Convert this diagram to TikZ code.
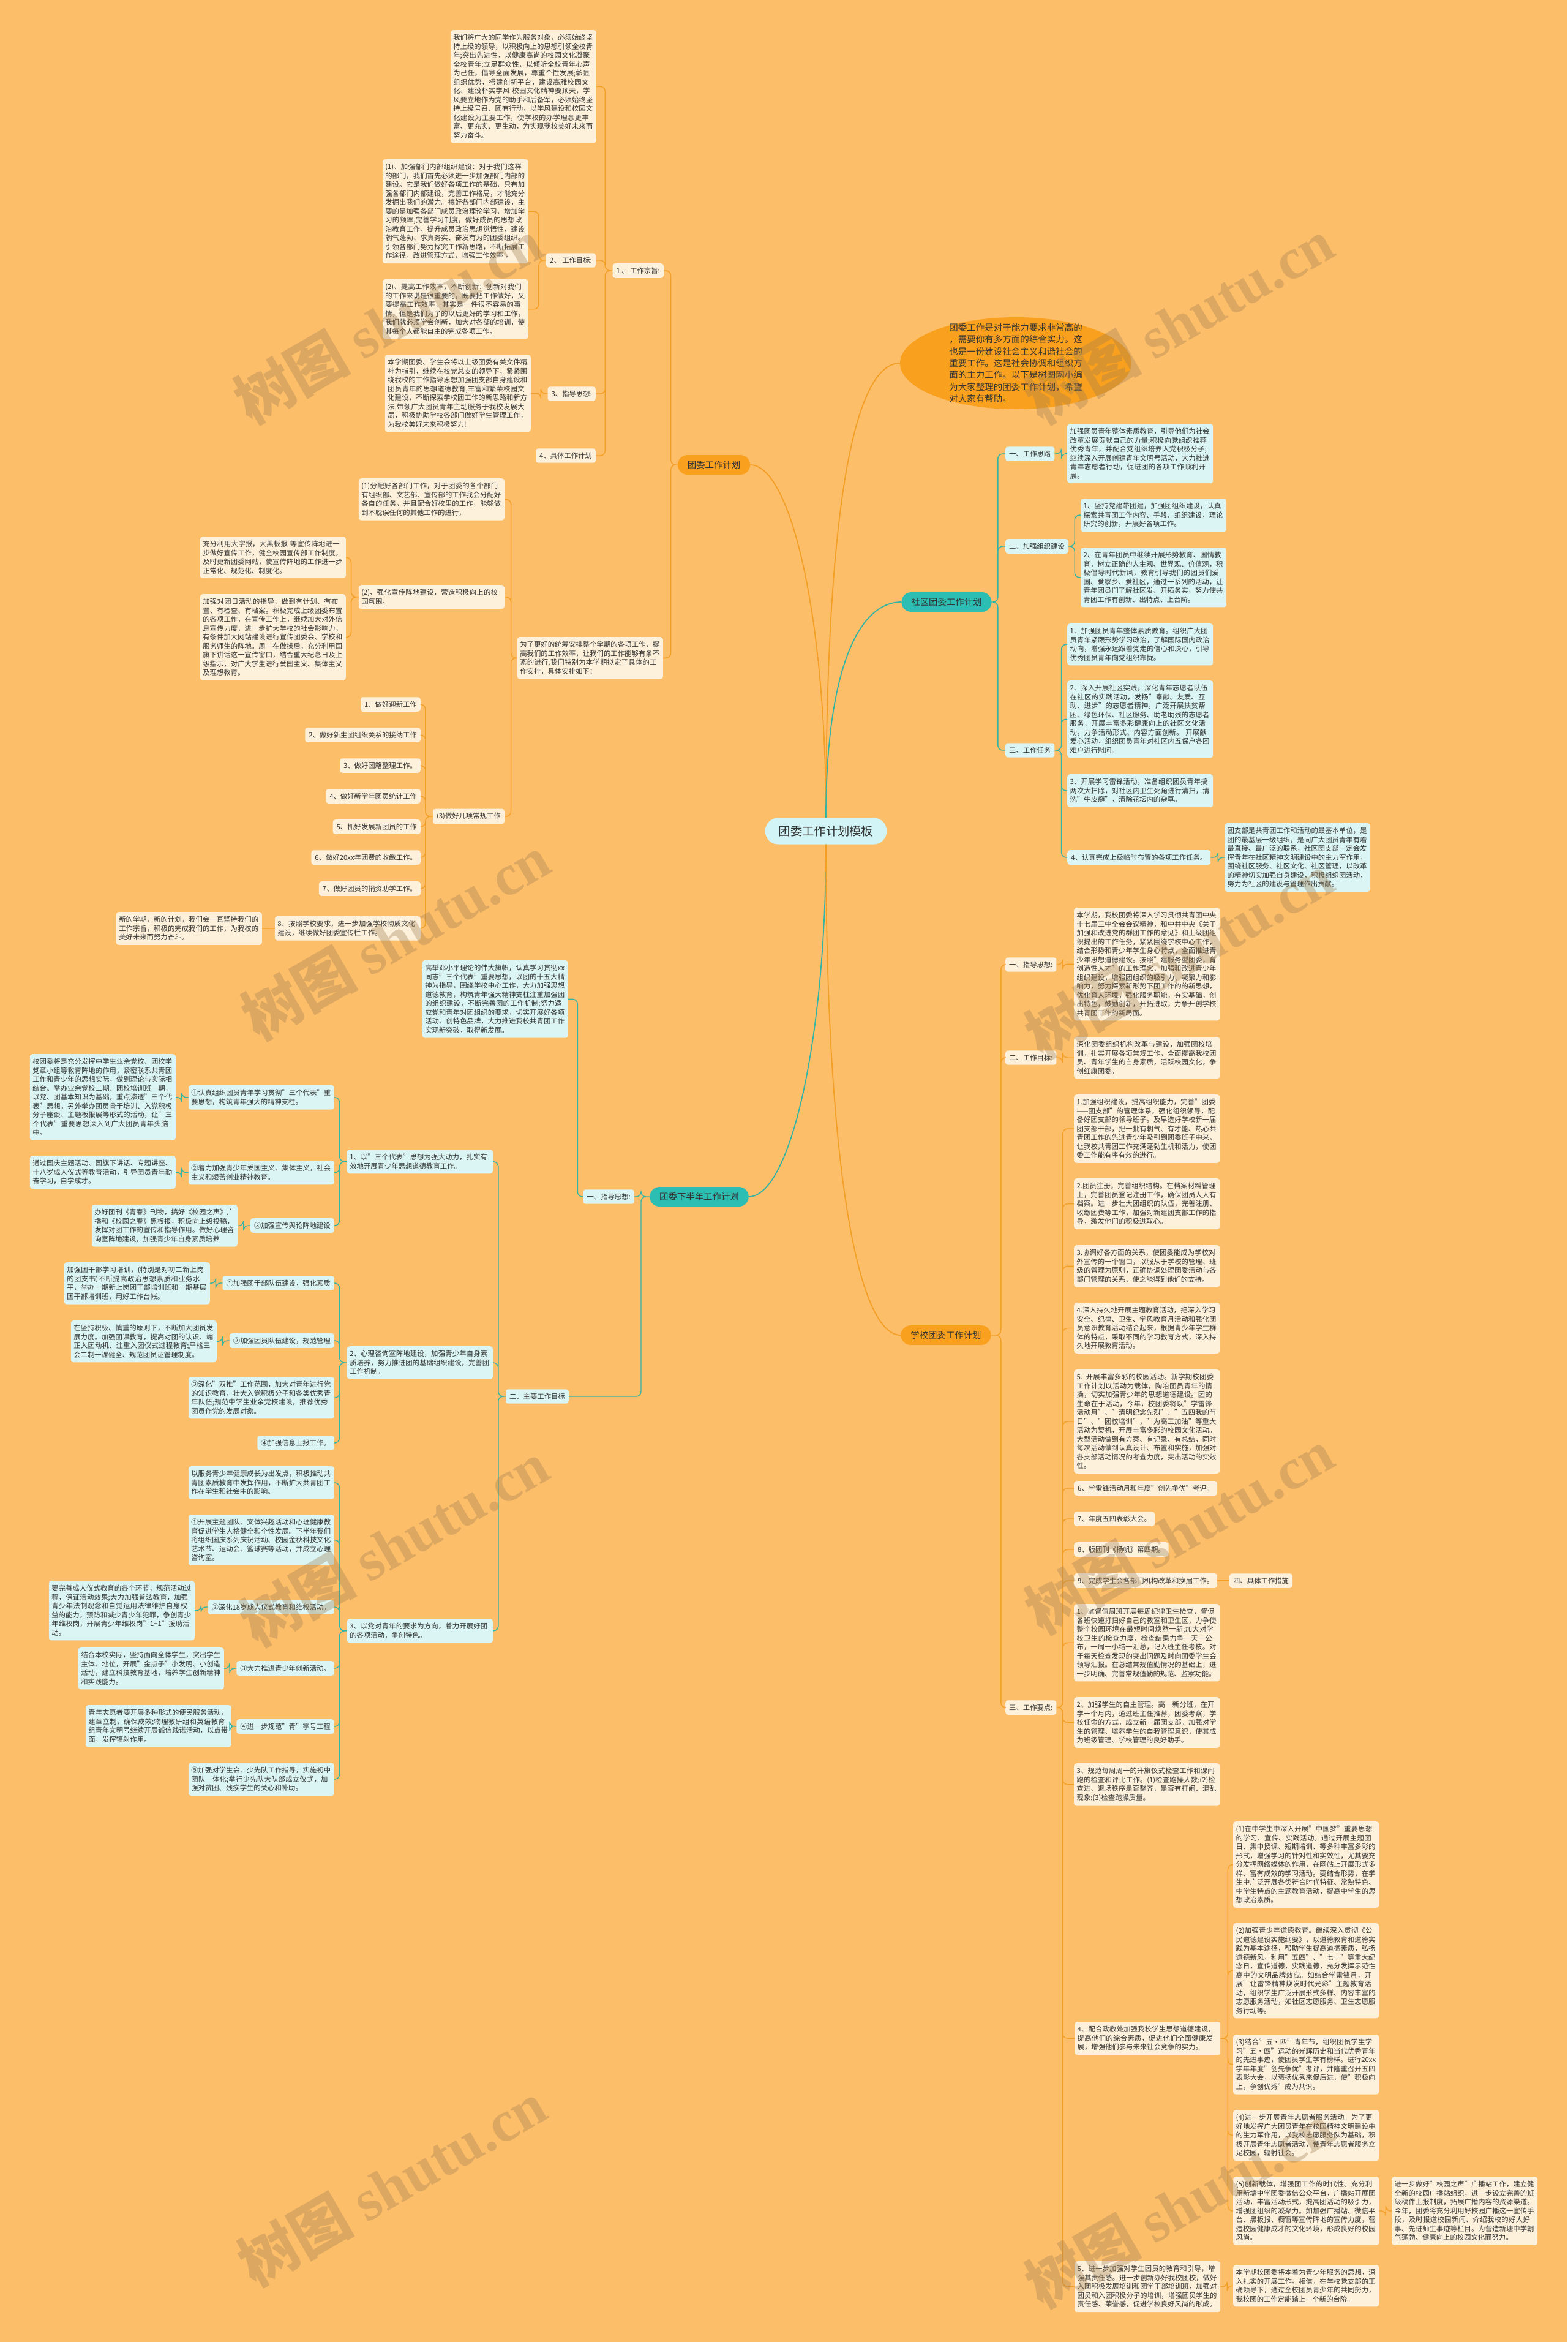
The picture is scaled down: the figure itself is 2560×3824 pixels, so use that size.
\documentclass[tikz,border=0pt]{standalone}
\usepackage{fontspec}
\setmainfont{Noto Sans CJK SC}
\newfontfamily\marklatin{Liberation Serif}
\XeTeXlinebreaklocale "zh"
\XeTeXlinebreakskip=0pt plus 1pt
\usepackage{xcolor}
\usepackage{tikz}
\usetikzlibrary{shapes.geometric}
\definecolor{bgorange}{RGB}{253,190,106}
\definecolor{nodeorange}{RGB}{249,161,30}
\definecolor{nodeteal}{RGB}{44,190,178}
\definecolor{rootcyan}{RGB}{210,244,246}
\definecolor{leafcream}{RGB}{253,241,220}
\definecolor{leafcyan}{RGB}{218,245,243}
\definecolor{lineorange}{RGB}{243,158,36}
\definecolor{lineteal}{RGB}{52,180,165}
\definecolor{inkdark}{RGB}{51,51,51}
\definecolor{markbrown}{RGB}{160,125,80}

\begin{document}
\begin{tikzpicture}[
  x=1pt, y=-1pt,
  every node/.style={text=inkdark},
  rootbox/.style={fill=rootcyan, rounded corners=21pt, minimum height=43pt, inner xsep=22pt, font=\fontsize{19.3}{23}\selectfont},
  orangebranch/.style={fill=nodeorange, rounded corners=16pt, minimum height=32pt, inner xsep=16pt, font=\fontsize{14.4}{17}\selectfont},
  tealbranch/.style={orangebranch, fill=nodeteal},
  orangeleaf/.style={fill=leafcream, rounded corners=4pt, text width=229pt, align=left, inner xsep=4.5pt, inner ysep=7pt, font=\fontsize{11.35}{14.5}\selectfont},
  tealleaf/.style={orangeleaf, fill=leafcyan},
  orangetag/.style={fill=leafcream, rounded corners=4pt, inner xsep=6pt, inner ysep=6.5pt, font=\fontsize{11.35}{14.5}\selectfont},
  tealtag/.style={orangetag, fill=leafcyan},
  orangeedge/.style={draw=lineorange, line width=1.4pt, rounded corners=8pt},
  tealedge/.style={orangeedge, draw=lineteal},
  trunkorange/.style={draw=lineorange, line width=1.8pt},
  trunkteal/.style={draw=lineteal, line width=1.8pt},
  watermark/.style={text=markbrown, opacity=0.35, rotate=30, font=\fontsize{95}{95}\selectfont\bfseries},
]
\fill[bgorange] (0,0) rectangle (2560,3824);
\useasboundingbox (0,0) rectangle (2560,3824);

\node[rootbox] (root) at (1349,1357) {团委工作计划模板};
\node[ellipse, fill=nodeorange, minimum width=378pt, minimum height=150pt, inner sep=0pt] (intro) at (1659,593) {};
\node[align=left, inner sep=0pt, font=\fontsize{14.5}{19.4}\selectfont] (introtext) at (intro.center) {团委工作是对于能力要求非常高的\\，需要你有多方面的综合实力。这\\也是一份建设社会主义和谐社会的\\重要工作。这是社会协调和组织方\\面的主力工作。以下是树图网小编\\为大家整理的团委工作计划，希望\\对大家有帮助。};

\node[orangebranch] (A) at (1166,759) {团委工作计划};
\node[orangetag, anchor=east] (A1) at (1084,442) {1 、 工作宗旨:};
\node[orangeleaf, anchor=north east] (TW1) at (974,49) {我们将广大的同学作为服务对象，必须始终坚持上级的领导，以积极向上的思想引领全校青年;突出先进性，以健康高尚的校园文化凝聚全校青年;立足群众性，以倾听全校青年心声为己任，倡导全面发展，尊重个性发展;彰显组织优势，搭建创新平台，建设高雅校园文化、建设朴实学风 校园文化精神要顶天，学风要立地作为党的助手和后备军，必须始终坚持上级号召、团有行动，以学风建设和校园文化建设为主要工作，使学校的办学理念更丰富、更充实、更生动，为实现我校美好未来而努力奋斗。};
\node[orangetag, anchor=east] (A1b) at (973,425) {2、 工作目标:};
\node[orangeleaf, anchor=north east] (TW2) at (863,260) {(1)、加强部门内部组织建设：对于我们这样的部门，我们首先必须进一步加强部门内部的建设。它是我们做好各项工作的基础，只有加强各部门内部建设，完善工作格局，才能充分发掘出我们的潜力。搞好各部门内部建设，主要的是加强各部门成员政治理论学习，增加学习的频率,完善学习制度，做好成员的思想政治教育工作，提升成员政治思想觉悟性，建设朝气蓬勃、求真务实、奋发有为的团委组织。引领各部门努力探究工作新思路，不断拓展工作途径，改进管理方式，增强工作效率 。};
\node[orangeleaf, anchor=north east] (TW3) at (863,456) {(2)、提高工作效率，不断创新：创新对我们的工作来说是很重要的，既要把工作做好，又要提高工作效率，其实是一件很不容易的事情，但是我们为了的以后更好的学习和工作，我们就必须学会创新，加大对各部的培训，使其每个人都能自主的完成各项工作。};
\node[orangetag, anchor=east] (A1c) at (973,643) {3、指导思想:};
\node[orangeleaf, anchor=north east] (TW4) at (867,579) {本学期团委、学生会将以上级团委有关文件精神为指引，继续在校党总支的领导下，紧紧围绕我校的工作指导思想加强团支部自身建设和团员青年的思想道德教育,丰富和繁荣校园文化建设，不断探索学校团工作的新思路和新方法,带领广大团员青年主动服务于我校发展大局，积极协助学校各部门做好学生管理工作，为我校美好未来积极努力!};
\node[orangetag, anchor=east] (A1d) at (973,744) {4、具体工作计划};
\node[orangeleaf, anchor=north east] (A2) at (1083,1040) {为了更好的统筹安排整个学期的各项工作，提高我们的工作效率，让我们的工作能够有条不紊的进行,我们特别为本学期拟定了具体的工作安排，具体安排如下：};
\node[orangeleaf, anchor=north east] (A2a) at (824,781) {(1)分配好各部门工作，对于团委的各个部门有组织部、文艺部、宣传部的工作我会分配好各自的任务，并且配合好校里的工作，能够做到不耽误任何的其他工作的进行，};
\node[orangeleaf, anchor=north east] (A2b) at (824,955) {(2)、强化宣传阵地建设，营造积极向上的校园氛围。};
\node[orangeleaf, anchor=north east] (TW5) at (565,876) {充分利用大字报，大黑板报 等宣传阵地进一步做好宣传工作，健全校园宣传部工作制度，及时更新团委网站，使宣传阵地的工作进一步正常化、规范化、制度化。};
\node[orangeleaf, anchor=north east] (TW6) at (565,970) {加强对团日活动的指导，做到有计划、有布置、有检查、有档案。积极完成上级团委布置的各项工作，在宣传工作上，继续加大对外信息宣传力度，进一步扩大学校的社会影响力，有条件加大网站建设进行宣传团委会、学校和服务师生的阵地。周一在做操后，充分利用国旗下讲话这一宣传窗口，结合重大纪念日及上级指示，对广大学生进行爱国主义、集体主义及理想教育。};
\node[orangetag, anchor=east] (A2c) at (824,1333) {(3)做好几项常规工作};
\node[orangetag, anchor=east] (L1) at (687,1150) {1、做好迎新工作};
\node[orangetag, anchor=east] (L2) at (687,1200) {2、做好新生团组织关系的接纳工作};
\node[orangetag, anchor=east] (L3) at (687,1250) {3、做好团籍整理工作。};
\node[orangetag, anchor=east] (L4) at (687,1300) {4、做好新学年团员统计工作};
\node[orangetag, anchor=east] (L5) at (687,1350) {5、抓好发展新团员的工作};
\node[orangetag, anchor=east] (L6) at (687,1400) {6、做好20xx年团费的收缴工作。};
\node[orangetag, anchor=east] (L7) at (687,1451) {7、做好团员的捐资助学工作。};
\node[orangeleaf, anchor=north east] (L8) at (687,1496) {8、按照学校要求，进一步加强学校物质文化建设，继续做好团委宣传栏工作。};
\node[orangeleaf, anchor=north east] (TW7) at (428,1489) {新的学期，新的计划，我们会一直坚持我们的工作宗旨，积极的完成我们的工作，为我校的美好未来而努力奋斗。};

\node[tealbranch] (B) at (1546,983) {社区团委工作计划};
\node[tealtag, anchor=west] (B1) at (1642,741) {一、工作思路};
\node[tealleaf, anchor=north west] (TB1) at (1743,692) {加强团员青年整体素质教育，引导他们为社会改革发展贡献自己的力量;积极向党组织推荐优秀青年，并配合党组织培养入党积极分子;继续深入开展创建青年文明号活动，大力推进青年志愿者行动，促进团的各项工作顺利开展。};
\node[tealtag, anchor=west] (B2) at (1642,892) {二、加强组织建设};
\node[tealleaf, anchor=north west] (TB2) at (1765,814) {1、坚持党建带团建，加强团组织建设，认真探索共青团工作内容、手段、组织建设，理论研究的创新，开展好各项工作。};
\node[tealleaf, anchor=north west] (TB3) at (1765,894) {2、在青年团员中继续开展形势教育、国情教育，树立正确的人生观、世界观、价值观，积极倡导时代新风，教育引导我们的团员们爱国、爱家乡、爱社区，通过一系列的活动，让青年团员们了解社区发、开拓务实，努力使共青团工作有创新、出特点、上台阶。};
\node[tealtag, anchor=west] (B3) at (1642,1225) {三、工作任务};
\node[tealleaf, anchor=north west] (TB4) at (1743,1018) {1、加强团员青年整体素质教育。组织广大团员青年紧跟形势学习政治，了解国际国内政治动向，增强永远跟着党走的信心和决心，引导优秀团员青年向党组织靠拢。};
\node[tealleaf, anchor=north west] (TB5) at (1743,1111) {2、深入开展社区实践，深化青年志愿者队伍在社区的实践活动，发扬"奉献、友爱、互助、进步"的志愿者精神，广泛开展扶贫帮困、绿色环保、社区服务、助老助残的志愿者服务，开展丰富多彩健康向上的社区文化活动，力争活动形式、内容方面创新。 开展献爱心活动，组织团员青年对社区内五保户各困难户进行慰问。};
\node[tealleaf, anchor=north west] (TB6) at (1743,1264) {3、开展学习雷锋活动，准备组织团员青年搞两次大扫除，对社区内卫生死角进行清扫，清洗"牛皮癣"，清除花坛内的杂草。};
\node[tealtag, anchor=west] (TB7) at (1743,1400) {4、认真完成上级临时布置的各项工作任务。};
\node[tealleaf, anchor=north west] (TB8) at (2000,1344) {团支部是共青团工作和活动的最基本单位，是团的最基层一级组织，是同广大团员青年有着最直接、最广泛的联系，社区团支部一定会发挥青年在社区精神文明建设中的主力军作用，围绕社区服务、社区文化、社区管理，以改革的精神切实加强自身建设，积极组织团活动，努力为社区的建设与管理作出贡献。};

\node[tealbranch] (C) at (1142,1954) {团委下半年工作计划};
\node[tealtag, anchor=east] (C1) at (1036,1954) {一、指导思想:};
\node[tealleaf, anchor=north east] (C1t) at (928,1568) {高举邓小平理论的伟大旗帜，认真学习贯彻xx同志"三个代表"重要思想，以团的十五大精神为指导，围绕学校中心工作，大力加强思想道德教育，构筑青年强大精神支柱注重加强团的组织建设，不断完善团的工作机制;努力适应党和青年对团组织的要求，切实开展好各项活动、创特色品牌，大力推进我校共青团工作实现新突破，取得新发展。};
\node[tealtag, anchor=east] (C2) at (929,2280) {二、主要工作目标};
\node[tealleaf, anchor=north east] (C2a) at (805,1877) {1、以"三个代表"思想为强大动力，扎实有效地开展青少年思想道德教育工作。};
\node[tealleaf, anchor=north east] (C2a1) at (546,1772) {①认真组织团员青年学习贯彻"三个代表"重要思想，构筑青年强大的精神支柱。};
\node[tealleaf, anchor=north east] (C2a1t) at (287,1721) {校团委将是充分发挥中学生业余党校、团校学党章小组等教育阵地的作用，紧密联系共青团工作和青少年的思想实际，做到理论与实际相结合。举办业余党校二期、团校培训班一期，以党、团基本知识为基础，重点渗透"三个代表"思想。另外举办团员骨干培训、入党积极分子座谈、主题板报展等形式的活动，让"三个代表"重要思想深入到广大团员青年头脑中。};
\node[tealleaf, anchor=north east] (C2a2) at (546,1895) {②着力加强青少年爱国主义、集体主义，社会主义和艰苦创业精神教育。};
\node[tealleaf, anchor=north east] (C2a2t) at (287,1887) {通过国庆主题活动、国旗下讲话、专题讲座、十八岁成人仪式等教育活动，引导团员青年勤奋学习，自学成才。};
\node[tealtag, anchor=east] (C2a3) at (546,2001) {③加强宣传舆论阵地建设};
\node[tealleaf, anchor=north east] (C2a3t) at (388,1967) {办好团刊《青春》刊物，搞好《校园之声》广播和《校园之春》黑板报，积极向上级投稿，发挥对团工作的宣传和指导作用。做好心理咨询室阵地建设，加强青少年自身素质培养};
\node[tealleaf, anchor=north east] (C2b) at (805,2198) {2、心理咨询室阵地建设，加强青少年自身素质培养，努力推进团的基础组织建设，完善团工作机制。};
\node[tealtag, anchor=east] (C2b1) at (546,2095) {①加强团干部队伍建设，强化素质};
\node[tealleaf, anchor=north east] (C2b1t) at (343,2061) {加强团干部学习培训，(特别是对初二新上岗的团支书)不断提高政治思想素质和业务水平，举办一期新上岗团干部培训班和一期基层团干部培训班，用好工作台帐。};
\node[tealtag, anchor=east] (C2b2) at (546,2189) {②加强团员队伍建设，规范管理};
\node[tealleaf, anchor=north east] (C2b2t) at (354,2156) {在坚持积极、慎重的原则下，不断加大团员发展力度。加强团课教育，提高对团的认识、端正入团动机、注重入团仪式过程教育;严格三会二制一课健全、规范团员证管理制度。};
\node[tealleaf, anchor=north east] (C2b3) at (546,2248) {③深化"双推"工作范围，加大对青年进行党的知识教育，壮大入党积极分子和各类优秀青年队伍;规范中学生业余党校建设，推荐优秀团员作党的发展对象。};
\node[tealtag, anchor=east] (C2b4) at (546,2356) {④加强信息上报工作。};
\node[tealleaf, anchor=north east] (C2c) at (805,2643) {3、以党对青年的要求为方向，着力开展好团的各项活动，争创特色。};
\node[tealleaf, anchor=north east] (C2c1) at (546,2394) {以服务青少年健康成长为出发点，积极推动共青团素质教育中发挥作用，不断扩大共青团工作在学生和社会中的影响。};
\node[tealleaf, anchor=north east] (C2c2) at (546,2473) {①开展主题团队、文体兴趣活动和心理健康教育促进学生人格健全和个性发展。下半年我们将组织国庆系列庆祝活动、校园金秋科技文化艺术节、运动会、篮球赛等活动，并成立心理咨询室。};
\node[tealtag, anchor=east] (C2c3) at (546,2624) {②深化18岁成人仪式教育和维权活动。};
\node[tealleaf, anchor=north east] (C2c3t) at (318,2581) {要完善成人仪式教育的各个环节，规范活动过程，保证活动效果;大力加强普法教育，加强青少年法制观念和自觉运用法律维护自身权益的能力，预防和减少青少年犯罪，争创青少年维权岗，开展青少年维权岗"1+1"援助活动。};
\node[tealtag, anchor=east] (C2c4) at (546,2724) {③大力推进青少年创新活动。};
\node[tealleaf, anchor=north east] (C2c4t) at (366,2690) {结合本校实际，坚持面向全体学生，突出学生主体、地位，开展"金点子"小发明、小创造活动，建立科技教育基地，培养学生创新精神和实践能力。};
\node[tealtag, anchor=east] (C2c5) at (546,2819) {④进一步规范"青"字号工程};
\node[tealleaf, anchor=north east] (C2c5t) at (378,2784) {青年志愿者要开展多种形式的便民服务活动，建章立制，确保成效;物理教研组和英语教育组青年文明号继续开展诚信践诺活动，以点带面，发挥辐射作用。};
\node[tealleaf, anchor=north east] (C2c6) at (546,2878) {⑤加强对学生会、少先队工作指导，实施初中团队一体化;举行少先队大队部成立仪式，加强对贫困、残疾学生的关心和补助。};

\node[orangebranch] (D) at (1545,2180) {学校团委工作计划};
\node[orangetag, anchor=west] (D1) at (1642,1575) {一、指导思想:};
\node[orangeleaf, anchor=north west] (D1t) at (1754,1482) {本学期，我校团委将深入学习贯彻共青团中央十七届三中全会会议精神，和中共中央《关于加强和改进党的群团工作的意见》和上级团组织提出的工作任务，紧紧围绕学校中心工作，结合形势和青少年学生身心特点，全面推进青少年思想道德建设。按照"建服务型团委，育创造性人才"的工作理念，加强和改进青少年组织建设，增强团组织的吸引力、凝聚力和影响力，努力探索新形势下团工作的的新思想，优化育人环境，强化服务职能，夯实基础，创出特色，鼓励创新，开拓进取，力争开创学校共青团工作的新局面。};
\node[orangetag, anchor=west] (D2) at (1642,1727) {二、工作目标:};
\node[orangeleaf, anchor=north west] (D2t) at (1754,1693) {深化团委组织机构改革与建设，加强团校培训，扎实开展各项常规工作，全面提高我校团员、青年学生的自身素质，活跃校园文化，争创红旗团委。};
\node[orangetag, anchor=west] (D3) at (1642,2788) {三、工作要点:};
\node[orangeleaf, anchor=north west] (D3a) at (1754,1787) {1.加强组织建设，提高组织能力，完善"团委——团支部"的管理体系，强化组织领导，配备好团支部的领导班子。及早选好学校新一届团支部干部，把一批有朝气、有才能、热心共青团工作的先进青少年吸引到团委班子中来，让我校共青团工作充满蓬勃生机和活力，使团委工作能有序有效的进行。};
\node[orangeleaf, anchor=north west] (D3b) at (1754,1924) {2.团员注册，完善组织结构。在档案材料管理上，完善团员登记注册工作，确保团员人人有档案。进一步壮大团组织的队伍，完善注册、收缴团费等工作，加强对新建团支部工作的指导，激发他们的积极进取心。};
\node[orangeleaf, anchor=north west] (D3c) at (1754,2033) {3.协调好各方面的关系，使团委能成为学校对外宣传的一个窗口，以服从于学校的管理、班级的管理为原则，正确协调处理团委活动与各部门管理的关系，使之能得到他们的支持。};
\node[orangeleaf, anchor=north west] (D3d) at (1754,2127) {4.深入持久地开展主题教育活动，把深入学习安全、纪律、卫生、学风教育月活动和强化团员意识教育活动结合起来，根据青少年学生群体的特点，采取不同的学习教育方式，深入持久地开展教育活动。};
\node[orangeleaf, anchor=north west] (D3e) at (1754,2236) {5. 开展丰富多彩的校园活动。新学期校团委工作计划以活动为载体，陶冶团员青年的情操，切实加强青少年的思想道德建设。团的生命在于活动，今年，校团委将以"学雷锋活动月"、"清明纪念先烈"、"五四我的节日"、"团校培训"，"为高三加油"等重大活动为契机，开展丰富多彩的校园文化活动。大型活动做到有方案、有记录、有总结，同时每次活动做到认真设计、布置和实施，加强对各支部活动情况的考查力度，突出活动的实效性。};
\node[orangetag, anchor=west] (D3f) at (1754,2430) {6、学雷锋活动月和年度"创先争优"考评。};
\node[orangetag, anchor=west] (D3g) at (1754,2480) {7、年度五四表彰大会。};
\node[orangetag, anchor=west] (D3h) at (1754,2530) {8、版团刊《扬帆》第四期。};
\node[orangetag, anchor=west] (D3i) at (1754,2581) {9、完成学生会各部门机构改革和换届工作。};
\node[orangetag, anchor=west] (D3i4) at (2008,2581) {四、具体工作措施};
\node[orangeleaf, anchor=north west] (D3j) at (1754,2619) {1、监督值周班开展每周纪律卫生检查，督促各班快速打扫好自己的教室和卫生区，力争使整个校园环境在最短时间焕然一新;加大对学校卫生的检查力度，检查结果力争一天一公布，一周一小结一汇总，记入班主任考核。对于每天检查发现的突出问题及时向团委学生会领导汇报。在总结常规值勤情况的基础上，进一步明确、完善常规值勤的规范、监察功能。};
\node[orangeleaf, anchor=north west] (D3k) at (1754,2771) {2、加强学生的自主管理。高一新分班，在开学一个月内，通过班主任推荐，团委考察，学校任命的方式，成立新一届团支部。加强对学生的管理、培养学生的自我管理意识，使其成为班级管理、学校管理的良好助手。};
\node[orangeleaf, anchor=north west] (D3l) at (1754,2879) {3、规范每周周一的升旗仪式检查工作和课间跑的检查和评比工作。(1)检查跑操人数;(2)检查进、退场秩序是否整齐，是否有打闹、混乱现象;(3)检查跑操质量。};
\node[orangeleaf, anchor=north west] (D3m) at (1755,3301) {4、配合政教处加强我校学生思想道德建设，提高他们的综合素质，促进他们全面健康发展，增强他们参与未来社会竞争的实力。};
\node[orangeleaf, anchor=north west] (D3m1) at (2014,2974) {(1)在中学生中深入开展"中国梦"重要思想的学习、宣传、实践活动。通过开展主题团日、集中授课、短期培训、等多种丰富多彩的形式，增强学习的针对性和实效性，尤其要充分发挥网络媒体的作用，在网站上开展形式多样、富有成效的学习活动。要结合形势，在学生中广泛开展各类符合时代特征、常熟特色、中学生特点的主题教育活动，提高中学生的思想政治素质。};
\node[orangeleaf, anchor=north west] (D3m2) at (2014,3140) {(2)加强青少年道德教育。继续深入贯彻《公民道德建设实施纲要》，以道德教育和道德实践为基本途径，帮助学生提高道德素质，弘扬道德新风，利用"五四"、"七一"等重大纪念日，宣传道德，实践道德，充分发挥示范性高中的文明品牌效应。如结合学雷锋月，开展"让雷锋精神焕发时代光彩"主题教育活动，组织学生广泛开展形式多样、内容丰富的志愿服务活动，如社区志愿服务、卫生志愿服务行动等。};
\node[orangeleaf, anchor=north west] (D3m3) at (2014,3322) {(3)结合"五·四"青年节，组织团员学生学习"五·四"运动的光辉历史和当代优秀青年的先进事迹，使团员学生学有榜样。进行20xx学年年度"创先争优"考评，并隆重召开五四表彰大会，以褒扬优秀来促后进，使"积极向上，争创优秀"成为共识。};
\node[orangeleaf, anchor=north west] (D3m4) at (2014,3445) {(4)进一步开展青年志愿者服务活动。为了更好地发挥广大团员青年在校园精神文明建设中的生力军作用，以我校志愿服务队为基础，积极开展青年志愿者活动，使青年志愿者服务立足校园，辐射社会。};
\node[orangeleaf, anchor=north west] (D3m5) at (2014,3554) {(5)创新载体，增强团工作的时代性。充分利用新塘中学团委微信公众平台，广播站开展团活动，丰富活动形式，提高团活动的吸引力，增强团组织的凝聚力。如加强广播站、微信平台、黑板报、橱窗等宣传阵地的宣传力度，营造校园健康成才的文化环境，形成良好的校园风尚。};
\node[orangeleaf, anchor=north west] (D3m5t) at (2273,3554) {进一步做好"校园之声"广播站工作，建立健全新的校园广播站组织，进一步设立完善的班级稿件上报制度，拓展广播内容的资源渠道。今年，团委将充分利用好校园广播这一宣传手段，及时报道校园新闻、介绍我校的好人好事、先进师生事迹等栏目。为营造新塘中学朝气蓬勃、健康向上的校园文化而努力。};
\node[orangeleaf, anchor=north west] (D3n) at (1755,3692) {5、进一步加强对学生团员的教育和引导，增强其责任感。进一步创新办好我校团校，做好入团积极发展培训和团学干部培训班，加强对团员和入团积极分子的培训，增强团员学生的责任感、荣誉感，促进学校良好风尚的形成。};
\node[orangeleaf, anchor=north west] (D3nt) at (2014,3698) {本学期校团委将本着为青少年服务的思想，深入扎实的开展工作。相信，在学校党支部的正确领导下，通过全校团员青少年的共同努力，我校团的工作定能踏上一个新的台阶。};

\draw[trunkorange] (root.north) .. controls (1349,1000) and (1290,759) .. (A.east);
\draw[trunkorange] (root.north) .. controls (1349,800) and (1400,593) .. (intro.west);
\draw[trunkteal] (root.north) .. controls (1349,1100) and (1400,983) .. (B.west);
\draw[trunkteal] (root.south) .. controls (1349,1700) and (1290,1954) .. (C.east);
\draw[trunkorange] (root.south) .. controls (1349,1900) and (1400,2180) .. (D.west);

\draw[orangeedge] (A.west) -- ++(-11,0) |- (A1.east) (A.west) -- ++(-11,0) |- (A2.east);
\draw[orangeedge] (A1.west) -- ++(-12,0) |- (TW1.east) (A1.west) -- ++(-12,0) |- (A1b.east)
  (A1.west) -- ++(-12,0) |- (A1c.east) (A1.west) -- ++(-12,0) |- (A1d.east);
\draw[orangeedge] (A1b.west) -- ++(-12,0) |- (TW2.east) (A1b.west) -- ++(-12,0) |- (TW3.east);
\draw[orangeedge] (A1c.west) -- ++(-11,0) |- (TW4.east);
\draw[orangeedge] (A2.west) -- ++(-10,0) |- (A2a.east) (A2.west) -- ++(-10,0) |- (A2b.east)
  (A2.west) -- ++(-10,0) |- (A2c.east);
\draw[orangeedge] (A2b.west) -- ++(-12,0) |- (TW5.east) (A2b.west) -- ++(-12,0) |- (TW6.east);
\draw[orangeedge] (A2c.west) -- ++(-12,0) |- (L1.east) (A2c.west) -- ++(-12,0) |- (L2.east)
  (A2c.west) -- ++(-12,0) |- (L3.east) (A2c.west) -- ++(-12,0) |- (L4.east)
  (A2c.west) -- ++(-12,0) |- (L5.east) (A2c.west) -- ++(-12,0) |- (L6.east)
  (A2c.west) -- ++(-12,0) |- (L7.east) (A2c.west) -- ++(-12,0) |- (L8.east);
\draw[orangeedge] (L8.west) -- (TW7.east);

\draw[tealedge] (B.east) -- ++(10,0) |- (B1.west) (B.east) -- ++(10,0) |- (B2.west)
  (B.east) -- ++(10,0) |- (B3.west);
\draw[tealedge] (B1.east) -- ++(11,0) |- (TB1.west);
\draw[tealedge] (B2.east) -- ++(10,0) |- (TB2.west) (B2.east) -- ++(10,0) |- (TB3.west);
\draw[tealedge] (B3.east) -- ++(11,0) |- (TB4.west) (B3.east) -- ++(11,0) |- (TB5.west)
  (B3.east) -- ++(11,0) |- (TB6.west) (B3.east) -- ++(11,0) |- (TB7.west);
\draw[tealedge] (TB7.east) -- ++(12,0) |- (TB8.west);

\draw[tealedge] (C.west) -- ++(-14,0) |- (C1.east) (C.west) -- ++(-14,0) |- (C2.east);
\draw[tealedge] (C1.west) -- ++(-9,0) |- (C1t.east);
\draw[tealedge] (C2.west) -- ++(-12,0) |- (C2a.east) (C2.west) -- ++(-12,0) |- (C2b.east)
  (C2.west) -- ++(-12,0) |- (C2c.east);
\draw[tealedge] (C2a.west) -- ++(-12,0) |- (C2a1.east) (C2a.west) -- ++(-12,0) |- (C2a2.east)
  (C2a.west) -- ++(-12,0) |- (C2a3.east);
\draw[tealedge] (C2a1.west) -- ++(-11,0) |- (C2a1t.east);
\draw[tealedge] (C2a2.west) -- ++(-11,0) |- (C2a2t.east);
\draw[tealedge] (C2a3.west) -- ++(-11,0) |- (C2a3t.east);
\draw[tealedge] (C2b.west) -- ++(-12,0) |- (C2b1.east) (C2b.west) -- ++(-12,0) |- (C2b2.east)
  (C2b.west) -- ++(-12,0) |- (C2b3.east) (C2b.west) -- ++(-12,0) |- (C2b4.east);
\draw[tealedge] (C2b1.west) -- ++(-11,0) |- (C2b1t.east);
\draw[tealedge] (C2b2.west) -- ++(-11,0) |- (C2b2t.east);
\draw[tealedge] (C2c.west) -- ++(-12,0) |- (C2c1.east) (C2c.west) -- ++(-12,0) |- (C2c2.east)
  (C2c.west) -- ++(-12,0) |- (C2c3.east) (C2c.west) -- ++(-12,0) |- (C2c4.east)
  (C2c.west) -- ++(-12,0) |- (C2c5.east) (C2c.west) -- ++(-12,0) |- (C2c6.east);
\draw[tealedge] (C2c3.west) -- ++(-11,0) |- (C2c3t.east);
\draw[tealedge] (C2c4.west) -- ++(-11,0) |- (C2c4t.east);
\draw[tealedge] (C2c5.west) -- ++(-11,0) |- (C2c5t.east);

\draw[orangeedge] (D.east) -- ++(16,0) |- (D1.west) (D.east) -- ++(16,0) |- (D2.west)
  (D.east) -- ++(16,0) |- (D3.west);
\draw[orangeedge] (D1.east) -- ++(10,0) |- (D1t.west);
\draw[orangeedge] (D2.east) -- ++(10,0) |- (D2t.west);
\draw[orangeedge] (D3.east) -- ++(10,0) |- (D3a.west) (D3.east) -- ++(10,0) |- (D3b.west)
  (D3.east) -- ++(10,0) |- (D3c.west) (D3.east) -- ++(10,0) |- (D3d.west)
  (D3.east) -- ++(10,0) |- (D3e.west) (D3.east) -- ++(10,0) |- (D3f.west)
  (D3.east) -- ++(10,0) |- (D3g.west) (D3.east) -- ++(10,0) |- (D3h.west)
  (D3.east) -- ++(10,0) |- (D3i.west) (D3.east) -- ++(10,0) |- (D3j.west)
  (D3.east) -- ++(10,0) |- (D3k.west) (D3.east) -- ++(10,0) |- (D3l.west)
  (D3.east) -- ++(10,0) |- (D3m.west) (D3.east) -- ++(10,0) |- (D3n.west);
\draw[orangeedge] (D3i.east) -- (D3i4.west);
\draw[orangeedge] (D3m.east) -- ++(12,0) |- (D3m1.west) (D3m.east) -- ++(12,0) |- (D3m2.west)
  (D3m.east) -- ++(12,0) |- (D3m3.west) (D3m.east) -- ++(12,0) |- (D3m4.west)
  (D3m.east) -- ++(12,0) |- (D3m5.west);
\draw[orangeedge] (D3m5.east) -- ++(11,0) |- (D3m5t.west);
\draw[orangeedge] (D3n.east) -- ++(11,0) |- (D3nt.west);

\node[watermark] (markA) at (634,524) {树图 {\marklatin shutu.cn}};
\node[watermark] (markB) at (1926,524) {树图 {\marklatin shutu.cn}};
\node[watermark] (markC) at (646,1530) {树图 {\marklatin shutu.cn}};
\node[watermark] (markD) at (1926,1560) {树图 {\marklatin shutu.cn}};
\node[watermark] (markE) at (644,2520) {树图 {\marklatin shutu.cn}};
\node[watermark] (markF) at (1926,2500) {树图 {\marklatin shutu.cn}};
\node[watermark] (markG) at (640,3565) {树图 {\marklatin shutu.cn}};
\node[watermark] (markH) at (1926,3600) {树图 {\marklatin shutu.cn}};
\end{tikzpicture}
\end{document}
